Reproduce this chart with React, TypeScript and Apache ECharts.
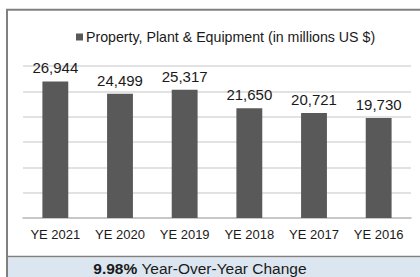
import React, { useEffect, useRef } from "react";
import * as echarts from "echarts";

const categories = ["YE 2021", "YE 2020", "YE 2019", "YE 2018", "YE 2017", "YE 2016"];
const values = [26944, 24499, 25317, 21650, 20721, 19730];
const seriesName = "Property, Plant & Equipment (in millions US $)";
const changePct = "9.98%";
const changeText = " Year-Over-Year Change";

const FONT = "Liberation Sans, Arial, sans-serif";

export default function App() {
  const ref = useRef<HTMLDivElement>(null);
  useEffect(() => {
    if (!ref.current) return;
    const chart = echarts.init(ref.current, null, { renderer: "svg" });
    chart.setOption({
      animation: false,
      backgroundColor: "#ffffff",
      textStyle: { fontFamily: FONT },
      legend: {
        show: true,
        left: 71,
        top: 25,
        itemWidth: 7,
        itemHeight: 7,
        itemGap: 4,
        icon: "rect",
        textStyle: { fontSize: 14.2, color: "#1a1a1a", fontFamily: FONT, padding: [0, 0, 0, -2] },
        data: [seriesName],
      },
      grid: { left: 23, right: 9, top: 66, bottom: 59, containLabel: false },
      xAxis: {
        type: "category",
        data: categories,
        axisLine: { show: true, lineStyle: { color: "#bfbfbf", width: 1.5 } },
        axisTick: { show: false },
        axisLabel: {
          interval: 0,
          hideOverlap: false,
          fontSize: 13,
          color: "#1a1a1a",
          margin: 10,
          fontFamily: FONT,
        },
      },
      yAxis: {
        type: "value",
        min: 0,
        max: 30000,
        interval: 5000,
        axisLabel: { show: false },
        axisLine: { show: false },
        axisTick: { show: false },
        splitLine: { show: true, lineStyle: { color: "#d9d9d9", width: 1.5 } },
      },
      series: [
        {
          name: seriesName,
          type: "bar",
          data: values,
          barCategoryGap: "60%",
          itemStyle: { color: "#595959" },
          label: {
            show: true,
            position: "top",
            distance: 6,
            fontSize: 15,
            color: "#1a1a1a",
            fontFamily: FONT,
            formatter: (p: any) => Number(p.value).toLocaleString("en-US"),
          },
        },
      ],
      graphic: [
        {
          type: "rect",
          silent: true,
          shape: { x: 413, y: 11, width: 8, height: 245 },
          style: { fill: "#ffffff" },
        },
        {
          type: "rect",
          silent: true,
          shape: { x: 8, y: 257.5, width: 412, height: 20 },
          style: { fill: "#dce6f0" },
        },
        {
          type: "line",
          silent: true,
          shape: { x1: 8, y1: 256.5, x2: 420, y2: 256.5 },
          style: { stroke: "#808080", lineWidth: 1.5 },
        },
        {
          type: "line",
          silent: true,
          shape: { x1: 7, y1: 9, x2: 7, y2: 277 },
          style: { stroke: "#808080", lineWidth: 2 },
        },
        {
          type: "line",
          silent: true,
          shape: { x1: 6, y1: 9.8, x2: 420, y2: 9.8 },
          style: { stroke: "#808080", lineWidth: 2 },
        },
        {
          type: "text",
          silent: true,
          x: 200,
          y: 268.5,
          style: {
            text: "{b|" + changePct + "}{n|" + changeText + "}",
            align: "center",
            verticalAlign: "middle",
            rich: {
              b: { fontSize: 15.5, fontWeight: "bold", fill: "#1a1a1a", fontFamily: FONT },
              n: { fontSize: 15.5, fill: "#1a1a1a", fontFamily: FONT },
            },
          },
        },
      ],
    });
    return () => chart.dispose();
  }, []);
  return (
    <div
      ref={ref}
      style={{ position: "fixed", left: 0, top: 0, width: 420, height: 277 }}
    />
  );
}
